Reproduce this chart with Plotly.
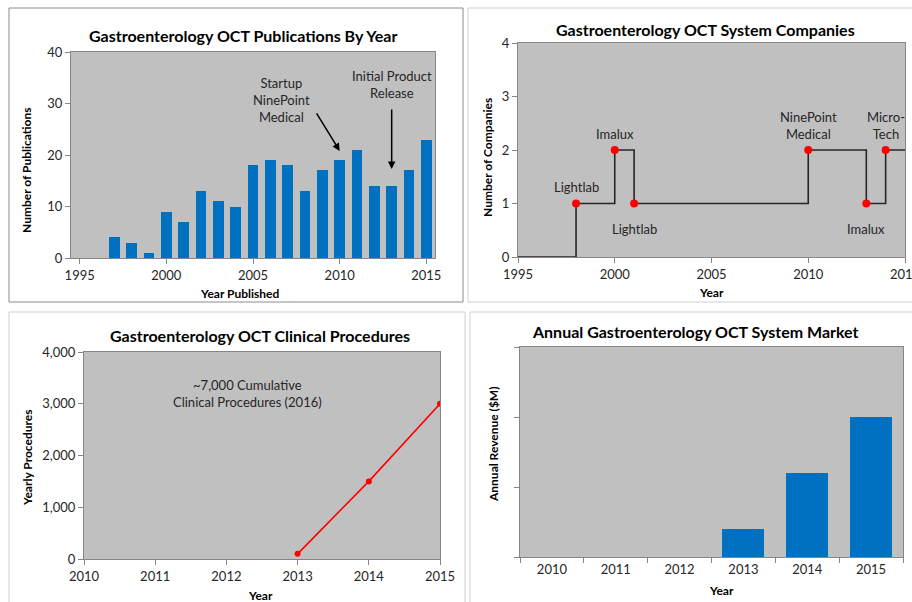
import plotly.graph_objects as go

W, H = 912, 602

# ---------------- data ----------------
pub_years = [1997, 1998, 1999, 2000, 2001, 2002, 2003, 2004, 2005, 2006,
             2007, 2008, 2009, 2010, 2011, 2012, 2013, 2014, 2015]
pub_counts = [4, 3, 1, 9, 7, 13, 11, 10, 18, 19, 18, 13, 17, 19, 21, 14, 14, 17, 23]

step_years = [1995, 1998, 2000, 2001, 2010, 2013, 2014, 2015]
step_counts = [0, 1, 2, 1, 2, 1, 2, 2]

event_years = [1998, 2000, 2001, 2010, 2013, 2014]
event_counts = [1, 2, 1, 2, 1, 2]
event_labels = ["Lightlab", "Imalux", "Lightlab", "NinePoint<br>Medical", "Imalux", "Micro-<br>Tech"]
event_side = ["above", "above", "below", "above", "below", "above"]

proc_years = [2013, 2014, 2015]
proc_counts = [100, 1500, 3000]

market_years = ["2010", "2011", "2012", "2013", "2014", "2015"]
market_revenue = [0, 0, 0, 0.4, 1.2, 2.0]

# ---------------- styling ----------------
FONT = "Lato"
BLUE = "#0070C0"
RED = "#FF0000"
BG = "#C0C0C0"
AX = "#868686"
TXT = "#262626"


def px_x(p):
    return p / W


def px_y(p):
    return 1 - p / H


fig = go.Figure()

# Panel 1: publications
fig.add_trace(go.Bar(x=pub_years, y=pub_counts, marker_color=BLUE, marker_line_width=0,
                     width=0.62, xaxis="x", yaxis="y", showlegend=False))

# Panel 2: companies step
fig.add_trace(go.Scatter(x=step_years, y=step_counts, mode="lines", line_shape="hv",
                         line=dict(color="#262626", width=1.6),
                         xaxis="x2", yaxis="y2", showlegend=False))
fig.add_trace(go.Scatter(x=event_years, y=event_counts, mode="markers",
                         marker=dict(color=RED, size=8, line_width=0),
                         xaxis="x2", yaxis="y2", showlegend=False))

# Panel 3: procedures
fig.add_trace(go.Scatter(x=proc_years, y=proc_counts, mode="lines+markers",
                         line=dict(color=RED, width=1.6),
                         marker=dict(color=RED, size=6, line_width=0),
                         xaxis="x3", yaxis="y3", showlegend=False))

# Panel 4: market
fig.add_trace(go.Bar(x=market_years, y=market_revenue, marker_color=BLUE, marker_line_width=0,
                     width=0.66, xaxis="x4", yaxis="y4", showlegend=False))

tickfont = dict(family=FONT, size=13, color=TXT)

common = dict(showgrid=False, zeroline=False, showline=True, linecolor=AX, linewidth=1,
              mirror=True, ticks="outside", ticklen=5, tickcolor=AX, tickfont=tickfont,
              automargin=False, ticklabeloverflow="allow")

fig.update_layout(
    template="none",
    width=W, height=H,
    margin=dict(l=0, r=0, t=0, b=0, pad=0),
    paper_bgcolor="white", plot_bgcolor=BG,
    font=dict(family=FONT, color=TXT),
    bargap=0,
    xaxis=dict(domain=[px_x(71), px_x(435)], anchor="y", range=[1994.5, 2015.5],
               tickvals=[1995, 2000, 2005, 2010, 2015], **common),
    yaxis=dict(domain=[px_y(258), px_y(52)], anchor="x", range=[0, 40], dtick=10, **common),
    xaxis2=dict(domain=[px_x(518), px_x(905)], anchor="y2", range=[1995, 2015],
                tickvals=[1995, 2000, 2005, 2010, 2015], **common),
    yaxis2=dict(domain=[px_y(257), px_y(43)], anchor="x2", range=[0, 4], dtick=1, **common),
    xaxis3=dict(domain=[px_x(84), px_x(440)], anchor="y3", range=[2010, 2015], dtick=1, **common),
    yaxis3=dict(domain=[px_y(559), px_y(352)], anchor="x3", range=[0, 4000], dtick=1000,
                tickformat=",", **common),
    xaxis4=dict(domain=[px_x(520), px_x(903)], anchor="y4", type="category",
                tickson="boundaries", **common),
    yaxis4=dict(domain=[px_y(557), px_y(347)], anchor="x4", range=[0, 3], dtick=1,
                showticklabels=False, **common),
)

shapes = [
    dict(type="rect", xref="paper", yref="paper", x0=px_x(9), x1=px_x(463),
         y0=px_y(302), y1=px_y(8), line=dict(color="#8c8c8c", width=1), layer="below"),
    dict(type="rect", xref="paper", yref="paper", x0=px_x(468), x1=px_x(930),
         y0=px_y(302), y1=px_y(8), line=dict(color="#d0d0d0", width=1), layer="below"),
    dict(type="rect", xref="paper", yref="paper", x0=px_x(9), x1=px_x(465),
         y0=px_y(620), y1=px_y(312), line=dict(color="#d0d0d0", width=1), layer="below"),
    dict(type="rect", xref="paper", yref="paper", x0=px_x(470), x1=px_x(930),
         y0=px_y(620), y1=px_y(312), line=dict(color="#d0d0d0", width=1), layer="below"),
]
fig.update_layout(shapes=shapes)

ann = []


def paper_text(text, x, y, size=12, bold=True, angle=0, color="black"):
    ann.append(dict(text=f"<b>{text}</b>" if bold else text, xref="paper", yref="paper",
                    x=px_x(x), y=px_y(y), xanchor="center", yanchor="middle",
                    showarrow=False, textangle=angle,
                    font=dict(family=FONT, size=size, color=color)))


# titles
paper_text("Gastroenterology OCT Publications By Year", 243, 36, size=16)
paper_text("Gastroenterology OCT System Companies", 705, 29, size=16)
paper_text("Gastroenterology OCT Clinical Procedures", 260, 335, size=16)
paper_text("Annual Gastroenterology OCT System Market", 695, 331, size=16)

# axis titles
paper_text("Number of Publications", 27, 170, angle=-90)
paper_text("Year Published", 240, 293)
paper_text("Number of Companies", 487, 157, angle=-90)
paper_text("Year", 711, 292)
paper_text("Yearly Procedures", 27, 458, angle=-90)
paper_text("Year", 260, 595)
paper_text("Annual Revenue ($M)", 493, 445, angle=-90)
paper_text("Year", 721, 590)

# panel 1 arrows
ann.append(dict(x=2010, y=20.8, xref="x", yref="y", ax=-24, ay=-39,
                showarrow=True, arrowhead=2, arrowsize=1, arrowwidth=1.5, arrowcolor="black",
                text=""))
ann.append(dict(x=2013, y=17.3, xref="x", yref="y", ax=0, ay=-61,
                showarrow=True, arrowhead=2, arrowsize=1, arrowwidth=1.5, arrowcolor="black",
                text=""))
paper_text("Startup<br>NinePoint<br>Medical", 281, 100, size=13, bold=False, color=TXT)
paper_text("Initial Product<br>Release", 392, 84, size=13, bold=False, color=TXT)

# panel 2 event labels
for yr, cnt, lab, side in zip(event_years, event_counts, event_labels, event_side):
    ann.append(dict(x=yr, y=cnt, xref="x2", yref="y2", text=lab, showarrow=False,
                    xanchor="center", yanchor="bottom" if side == "above" else "top",
                    yshift=6 if side == "above" else -16,
                    font=dict(family=FONT, size=13, color=TXT)))

# panel 3 note
ann.append(dict(x=2012.3, y=3200, xref="x3", yref="y3",
                text="~7,000 Cumulative<br>Clinical Procedures (2016)", showarrow=False,
                font=dict(family=FONT, size=13, color=TXT)))

fig.update_layout(annotations=ann)

fig.write_html("out.html", config={"displayModeBar": False},
               post_script="document.body.style.margin='0';")
